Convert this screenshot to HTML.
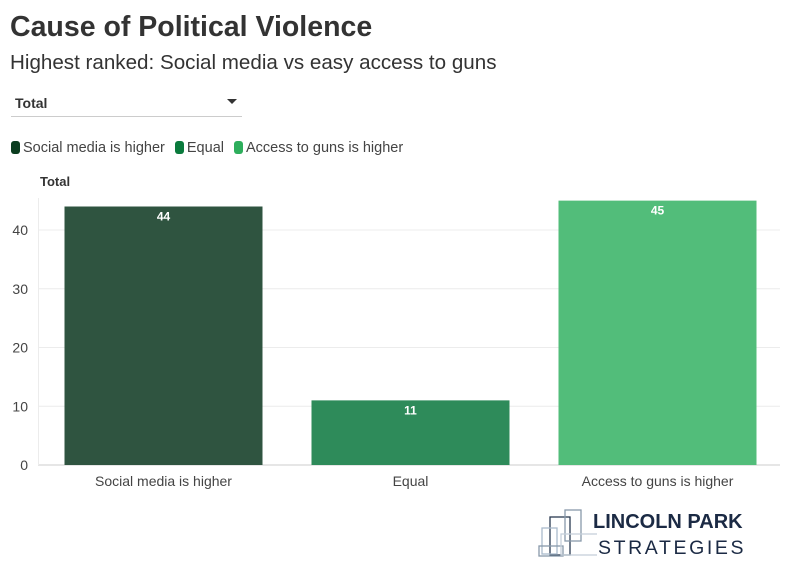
<!DOCTYPE html>
<html><head><meta charset="utf-8"><style>
body{margin:0;width:794px;height:575px;background:#fff;font-family:"Liberation Sans",sans-serif;color:#333;position:relative;overflow:hidden}
.t{position:absolute;white-space:nowrap}
.sw{display:inline-block;width:9px;height:13px;border-radius:3px;vertical-align:-2px;margin-right:3px}
</style></head><body>
<div class="t" style="left:10px;top:11px;font-size:28.5px;font-weight:bold;color:#333">Cause of Political Violence</div>
<div class="t" style="left:10px;top:51px;font-size:20.6px;color:#333">Highest ranked: Social media vs easy access to guns</div>
<div style="position:absolute;left:11px;top:92px;width:231px;height:24px;border-bottom:1px solid #ccc">
<span class="t" style="left:4px;top:3px;font-size:14px;font-weight:bold">Total</span>
<span class="t" style="right:5px;top:7px;width:0;height:0;border-left:5px solid transparent;border-right:5px solid transparent;border-top:5px solid #333"></span>
</div>
<div class="t" style="left:11px;top:140px;font-size:14.5px;color:#444">
<span><span class="sw" style="background:#0b3d20"></span>Social media is higher</span>
<span style="margin-left:6px"><span class="sw" style="background:#0a7a3c"></span>Equal</span>
<span style="margin-left:6px"><span class="sw" style="background:#2eae5c"></span>Access to guns is higher</span>
</div>
<div class="t" style="left:40px;top:174px;font-size:13px;font-weight:bold">Total</div>
<svg id="c" width="794" height="575" style="position:absolute;left:0;top:0"></svg>
<div style="position:absolute;left:537px;top:508px;width:220px;height:55px">
<svg width="60" height="55" style="position:absolute;left:0;top:0">
<rect x="13" y="9" width="20" height="38" fill="none" stroke="#2a3a50" stroke-width="1.3"/>
<rect x="28" y="2" width="16" height="31" fill="none" stroke="#8899aa" stroke-width="1.3"/>
<rect x="5" y="20" width="15" height="26" fill="none" stroke="#aabbcc" stroke-width="1.3"/>
<rect x="2" y="38" width="24" height="10" fill="none" stroke="#8899aa" stroke-width="1.3"/>
<rect x="24" y="26" width="38" height="21" fill="none" stroke="#c5d0da" stroke-width="1.3"/>
</svg>
<div class="t" style="left:56px;top:3px;font-size:20px;font-weight:bold;color:#1b2a44">LINCOLN PARK</div>
<div class="t" style="left:61px;top:29px;font-size:19.5px;letter-spacing:2.6px;color:#1b2a44">STRATEGIES</div>
</div>
<script>
const categories=["Social media is higher","Equal","Access to guns is higher"];
const values=[44,11,45];
const yTicks=[0,10,20,30,40];
const colors=["#2f5440","#2e8b5a","#52bd7a"];
const svg=document.getElementById('c');const NS="http://www.w3.org/2000/svg";
const y0=465,ppu=5.875,x0=40,band=247,bw=198;
const y=v=>y0-v*ppu;const x=i=>x0+i*band+(band-bw)/2;
function mk(t,a){const e=document.createElementNS(NS,t);for(const k in a)e.setAttribute(k,a[k]);svg.appendChild(e);return e;}
yTicks.forEach(v=>{
 const l=mk('line',{x1:38,x2:780,y1:y(v),y2:y(v),stroke:v===0?'#ccc':'#ececec'});
 
 
 const t=mk('text',{x:28,y:y(v)+5,'text-anchor':'end','font-size':14,fill:'#444','font-family':'Liberation Sans'});t.textContent=v;
 
 
});
mk('line',{x1:38.5,x2:38.5,y1:198,y2:465,stroke:'#ececec'});
values.forEach((v,i)=>{
 const r=mk('rect',{x:x(i),y:y(v),width:bw,height:v*ppu,fill:colors[i]});
 
 
 const t=mk('text',{x:x(i)+bw/2,y:y(v)+14,'text-anchor':'middle','font-size':12,'font-weight':'bold',fill:'#fff','font-family':'Liberation Sans'});t.textContent=v;
 
 
 const c=mk('text',{x:x(i)+bw/2,y:486,'text-anchor':'middle','font-size':14,fill:'#444','font-family':'Liberation Sans'});c.textContent=categories[i];
 
 
});
</script>
</body></html>
